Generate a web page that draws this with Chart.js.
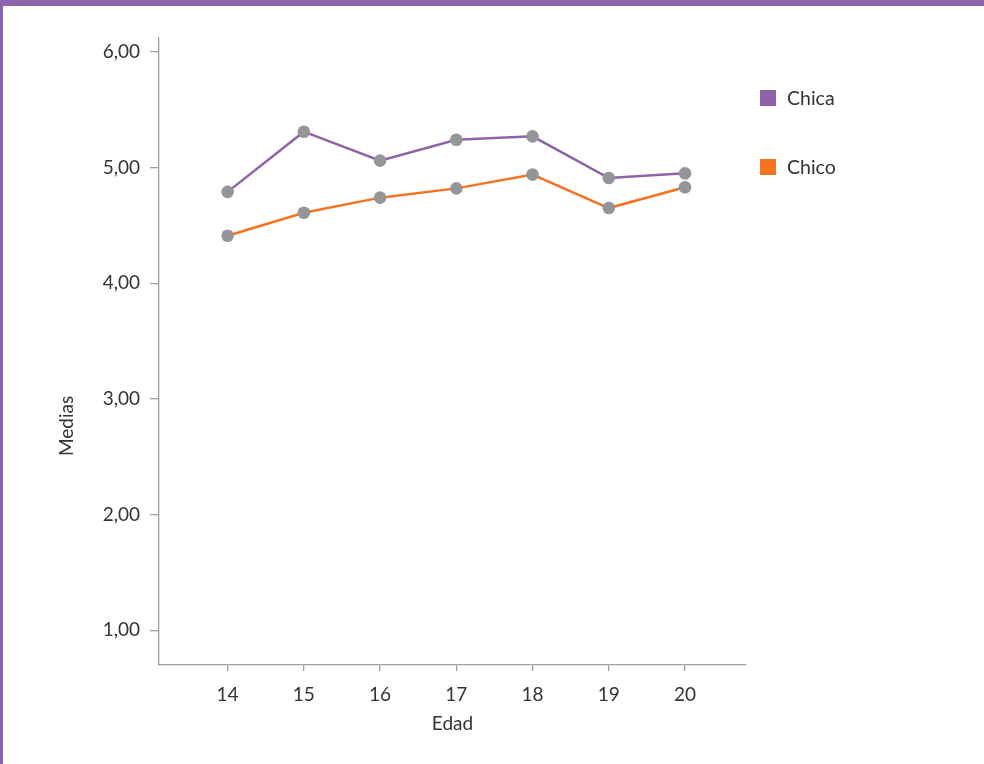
<!DOCTYPE html>
<html>
<head>
<meta charset="utf-8">
<script src="https://cdn.jsdelivr.net/npm/chart.js@4.4.0/dist/chart.umd.min.js"></script>
<style>
  body { margin: 0; background: #fff; font-family: "Lato", sans-serif; }
  #wrap { position: relative; width: 984px; height: 764px; overflow: hidden; }
  #topBar { position: absolute; left: 0; top: 0; width: 984px; height: 6px; background: #8e65ab; }
  #leftBar { position: absolute; left: 0; top: 0; width: 3px; height: 764px; background: #8e65ab; }
  #legend { position: absolute; left: 760px; top: 0; }
  .item { position: absolute; left: 0; display: flex; align-items: center; white-space: nowrap; height: 16px; }
  .box { width: 16px; height: 16px; margin-right: 11px; flex: none; }
  .lbl { font-size: 19.5px; line-height: 16px; color: #333; }
</style>
</head>
<body>
<div id="wrap">
  <canvas id="chart" width="984" height="764"></canvas>
  <div id="topBar"></div>
  <div id="leftBar"></div>
  <div id="legend"></div>
</div>
<script>
// Data
const ages = [14, 15, 16, 17, 18, 19, 20];
const chicaValues = [4.79, 5.31, 5.06, 5.24, 5.27, 4.91, 4.95];
const chicoValues = [4.41, 4.61, 4.74, 4.82, 4.94, 4.65, 4.83];
const seriesNames = ["Chica", "Chico"];
const seriesColors = ["#8e62a9", "#f47321"];
const xTitle = "Edad";
const yTitle = "Medias";

const textColor = "#333333";
const axisColor = "#a0a0a0";
const fontFamily = "Lato, sans-serif";

function toPoints(values) {
  return ages.map((a, i) => ({ x: a, y: values[i] }));
}

// Y axis title drawn at its place left of the axis
const yTitlePlugin = {
  id: "yTitle",
  afterDraw(chart) {
    const ctx = chart.ctx;
    ctx.save();
    ctx.translate(67, 426);
    ctx.rotate(-Math.PI / 2);
    ctx.fillStyle = textColor;
    ctx.font = "19px " + fontFamily;
    ctx.textAlign = "center";
    ctx.textBaseline = "middle";
    ctx.fillText(yTitle, 0, 0);
    ctx.restore();
  },
};

const ctx = document.getElementById("chart");

window.mediasChart = new Chart(ctx, {
  type: "line",
  data: {
    datasets: [
      {
        label: seriesNames[0],
        data: toPoints(chicaValues),
        borderColor: seriesColors[0],
        backgroundColor: seriesColors[0],
        borderWidth: 2.5,
        pointRadius: 6.3,
        pointBorderWidth: 0,
        pointBackgroundColor: "#939598",
        tension: 0,
        fill: false,
      },
      {
        label: seriesNames[1],
        data: toPoints(chicoValues),
        borderColor: seriesColors[1],
        backgroundColor: seriesColors[1],
        borderWidth: 2.5,
        pointRadius: 6.3,
        pointBorderWidth: 0,
        pointBackgroundColor: "#939598",
        tension: 0,
        fill: false,
      },
    ],
  },
  options: {
    responsive: false,
    animation: false,
    layout: {
      padding: { left: 0, top: 38, right: 238, bottom: 0 },
    },
    plugins: {
      legend: { display: false },
      tooltip: { enabled: false },
    },
    scales: {
      x: {
        type: "linear",
        min: 13.1,
        max: 20.8,
        afterFit: (scale) => {
          scale.height = 99;
        },
        border: { display: true, color: axisColor, width: 1.3 },
        grid: {
          drawOnChartArea: false,
          drawTicks: true,
          tickLength: 6,
          color: axisColor,
          lineWidth: 1.3,
        },
        ticks: {
          stepSize: 1,
          includeBounds: false,
          autoSkip: false,
          maxRotation: 0,
          padding: 12,
          color: textColor,
          font: { family: fontFamily, size: 19 },
        },
        title: {
          display: true,
          text: xTitle,
          color: textColor,
          font: { family: fontFamily, size: 19 },
          padding: { top: 0, bottom: 29 },
        },
      },
      y: {
        min: 0.7,
        max: 6.12,
        afterFit: (scale) => {
          scale.width = 159;
        },
        border: { display: true, color: axisColor, width: 1.3 },
        grid: {
          drawOnChartArea: false,
          drawTicks: true,
          tickLength: 9,
          color: axisColor,
          lineWidth: 1.3,
        },
        ticks: {
          stepSize: 1,
          includeBounds: false,
          padding: 10,
          color: textColor,
          font: { family: fontFamily, size: 19 },
          callback: (v) => v.toFixed(2).replace(".", ","),
        },
      },
    },
  },
  plugins: [yTitlePlugin],
});

// Legend on the right, built from the series
const legendEl = document.getElementById("legend");
const legendTops = [90, 159];
seriesNames.forEach((name, i) => {
  const item = document.createElement("div");
  item.className = "item";
  item.style.top = legendTops[i] + "px";
  item.innerHTML =
    '<div class="box" style="background:' + seriesColors[i] + '"></div>' +
    '<span class="lbl">' + name + "</span>";
  legendEl.appendChild(item);
});
</script>
</body>
</html>
